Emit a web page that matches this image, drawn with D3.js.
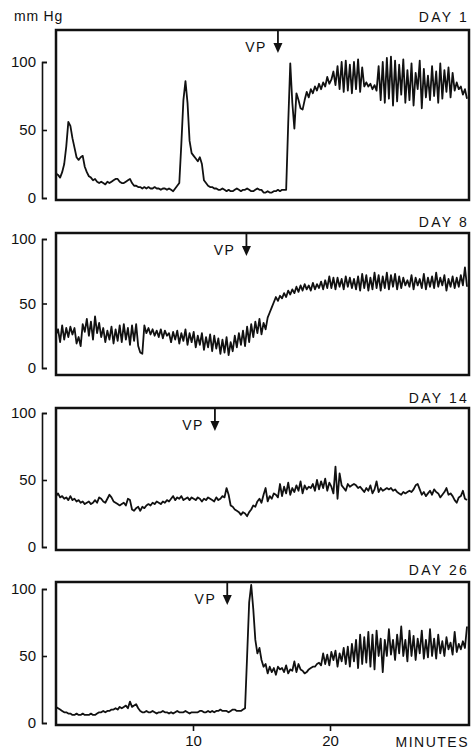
<!DOCTYPE html>
<html>
<head>
<meta charset="utf-8">
<script src="https://cdn.jsdelivr.net/npm/d3@7"></script>
<style>
  html, body { margin: 0; padding: 0; background: #fff; }
  svg { display: block; }
  text { font-family: "Liberation Sans", Arial, sans-serif; fill: #111; }
</style>
</head>
<body>
<script>
// ---- data (mm Hg, sampled every 0.15 min) ----
const sampleStep = 0.15;
const day1 = [18,17,15,19,25,38,56,53,44,37,30,28,30,31,23,19,16,15,13,14,12,11,12,11,10,12,11,12,13,14,14,12,11,11,12,13,14,11,9,9,8,8,7,8,7,8,7,7,8,7,7,6,7,7,6,7,6,5,7,9,11,40,72,86,70,42,33,31,29,27,30,25,13,11,9,8,8,7,7,6,6,7,6,5,6,5,5,6,7,6,5,6,6,7,6,5,5,6,7,6,6,4,4,5,4,4,5,5,6,5,6,6,6,55,99,70,51,77,72,66,65,72,78,74,80,77,82,79,84,80,85,82,89,84,87,93,83,97,80,100,78,101,79,98,77,100,80,102,78,96,82,85,82,84,80,83,79,97,72,100,70,103,73,104,68,101,71,98,76,102,70,94,72,99,68,92,80,101,66,95,74,90,72,97,75,93,70,99,73,94,78,96,74,92,79,85,80,82,76,80,73];
const day8 = [26,30,20,33,22,31,24,32,26,31,19,24,17,34,28,38,25,36,22,40,27,35,24,31,20,29,22,32,19,30,21,33,20,34,22,31,18,33,21,34,17,12,11,33,27,31,26,30,25,29,24,30,23,29,25,27,20,28,22,29,19,27,21,30,18,27,20,28,16,25,18,27,14,24,16,26,13,25,15,23,11,22,12,24,10,20,13,25,16,27,18,29,17,32,20,34,24,36,27,38,26,35,30,39,43,47,51,55,52,56,54,58,55,60,57,61,58,63,59,64,60,65,61,64,60,66,61,65,62,67,61,68,62,71,62,70,61,70,63,69,61,71,63,70,62,69,61,71,60,73,62,72,60,70,61,74,62,72,60,71,62,74,61,72,63,73,61,71,62,70,64,68,63,72,61,70,64,69,62,73,61,70,63,71,62,74,63,70,64,72,60,69,63,71,62,70,63,72,64,78,63];
const day14 = [38,40,37,38,36,37,35,38,35,36,34,35,33,34,32,33,34,32,33,35,33,37,36,34,33,36,39,37,34,33,32,31,32,33,31,36,35,28,27,29,30,27,30,29,31,32,31,33,32,34,33,32,34,33,35,34,36,38,35,37,36,38,35,36,37,35,37,36,35,37,36,34,36,35,37,36,35,34,37,35,36,38,37,44,39,31,30,28,27,26,24,26,25,23,26,28,31,30,34,36,33,39,44,34,38,36,40,39,37,47,38,45,40,48,39,44,41,46,42,49,40,46,43,45,44,47,42,50,43,49,44,51,42,48,45,40,60,36,55,46,44,42,47,45,46,47,46,44,45,43,41,44,42,46,40,43,49,41,44,42,43,44,43,44,42,43,41,40,39,41,40,41,42,41,43,46,47,43,39,41,38,40,42,39,43,41,40,37,39,41,44,39,40,38,35,33,37,38,42,36,35];
const day26 = [12,11,10,9,8,8,7,7,6,6,7,6,6,7,6,6,6,7,6,6,7,8,8,9,8,9,9,10,10,11,10,12,11,12,13,11,16,12,13,14,11,9,8,8,9,8,8,9,8,7,8,8,9,8,8,7,8,7,8,9,8,8,8,9,8,7,8,8,8,8,9,9,8,8,9,8,9,8,9,9,10,9,9,9,8,9,10,10,9,9,9,10,11,50,90,103,85,62,52,56,47,42,44,37,42,38,41,36,42,40,41,38,43,37,40,39,46,38,44,40,39,37,38,40,41,42,42,44,45,43,52,44,51,43,53,47,54,42,52,46,56,44,57,42,59,46,62,41,66,44,64,45,68,42,66,40,69,50,63,38,62,50,70,51,62,47,66,52,72,50,62,46,69,50,65,47,63,52,69,48,62,49,70,50,63,48,66,52,61,50,64,55,60,51,68,53,59,55,61,56,72];
const dayLabels = ["DAY 1", "DAY 8", "DAY 14", "DAY 26"];
const vpTimes = [16.2, 13.9, 11.6, 12.5];
const yTickValues = [0, 50, 100];
const xTickValues = [10, 20];
const series = [day1, day8, day14, day26];

// ---- layout ----
const W = 471, H = 751;
const boxLeft = 56, boxRight = 469;
const panels = [
  { top: 30,  bottom: 200, y0: 198, y100: 62,  labelY: 22 },
  { top: 233, bottom: 375, y0: 368, y100: 239, labelY: 227 },
  { top: 408, bottom: 550, y0: 547, y100: 413, labelY: 403 },
  { top: 582, bottom: 725, y0: 723, y100: 589, labelY: 575 }
];

const svg = d3.select("body").append("svg").attr("width", W).attr("height", H);
const x = d3.scaleLinear().domain([0, 30]).range([56, 467]);

svg.append("text").attr("x", 14).attr("y", 21).attr("font-size", 14)
  .attr("letter-spacing", 0.8).text("mm Hg");

panels.forEach((p, k) => {
  const y = d3.scaleLinear().domain([0, 100]).range([p.y0, p.y100]);
  const g = svg.append("g");

  // frame
  g.append("rect").attr("x", boxLeft).attr("y", p.top)
    .attr("width", boxRight - boxLeft).attr("height", p.bottom - p.top)
    .attr("fill", "none").attr("stroke", "#111").attr("stroke-width", 2.5);

  // y bracket axis
  const ya = g.append("g").attr("transform", "translate(42,0)")
    .call(d3.axisLeft(y).tickValues(yTickValues).tickSizeInner(-5).tickSizeOuter(-5).tickPadding(6));
  ya.selectAll("path,line").attr("stroke", "#111").attr("stroke-width", 1.6);
  ya.selectAll("text").attr("font-size", 15).attr("fill", "#111")
    .attr("font-family", "Liberation Sans, Arial, sans-serif");

  // trace
  const line = d3.line().x((d, i) => x(i * sampleStep)).y(d => y(d)).curve(d3.curveLinear);
  g.append("path").datum(series[k]).attr("d", line)
    .attr("fill", "none").attr("stroke", "#111").attr("stroke-width", 1.8)
    .attr("stroke-linejoin", "round");

  // day label
  g.append("text").attr("x", boxRight).attr("y", p.labelY).attr("text-anchor", "end")
    .attr("font-size", 14).attr("letter-spacing", 2.2).text(dayLabels[k]);

  // VP arrow
  const ax = x(vpTimes[k]);
  const headTop = p.top + 13, headBot = p.top + 23;
  g.append("line").attr("x1", ax).attr("x2", ax).attr("y1", p.top).attr("y2", headTop + 2)
    .attr("stroke", "#111").attr("stroke-width", 1.8);
  g.append("path").attr("d", `M${ax - 4.5},${headTop} L${ax + 4.5},${headTop} L${ax},${headBot} Z`)
    .attr("fill", "#111");
  g.append("text").attr("x", ax - 11).attr("y", p.top + 22).attr("text-anchor", "end")
    .attr("font-size", 14).attr("letter-spacing", 1.5).text("VP");

  if (k === 3) {
    const xa = g.append("g").attr("transform", `translate(0,${p.bottom})`)
      .call(d3.axisBottom(x).tickValues(xTickValues).tickSize(6).tickPadding(4));
    xa.select(".domain").remove();
    xa.selectAll("line").attr("stroke", "#111").attr("stroke-width", 1.6);
    xa.selectAll("text").attr("font-size", 15).attr("fill", "#111")
      .attr("font-family", "Liberation Sans, Arial, sans-serif");
    svg.append("text").attr("x", boxRight).attr("y", 747).attr("text-anchor", "end")
      .attr("font-size", 14).attr("letter-spacing", 1.5).text("MINUTES");
  }
});
</script>
</body>
</html>
